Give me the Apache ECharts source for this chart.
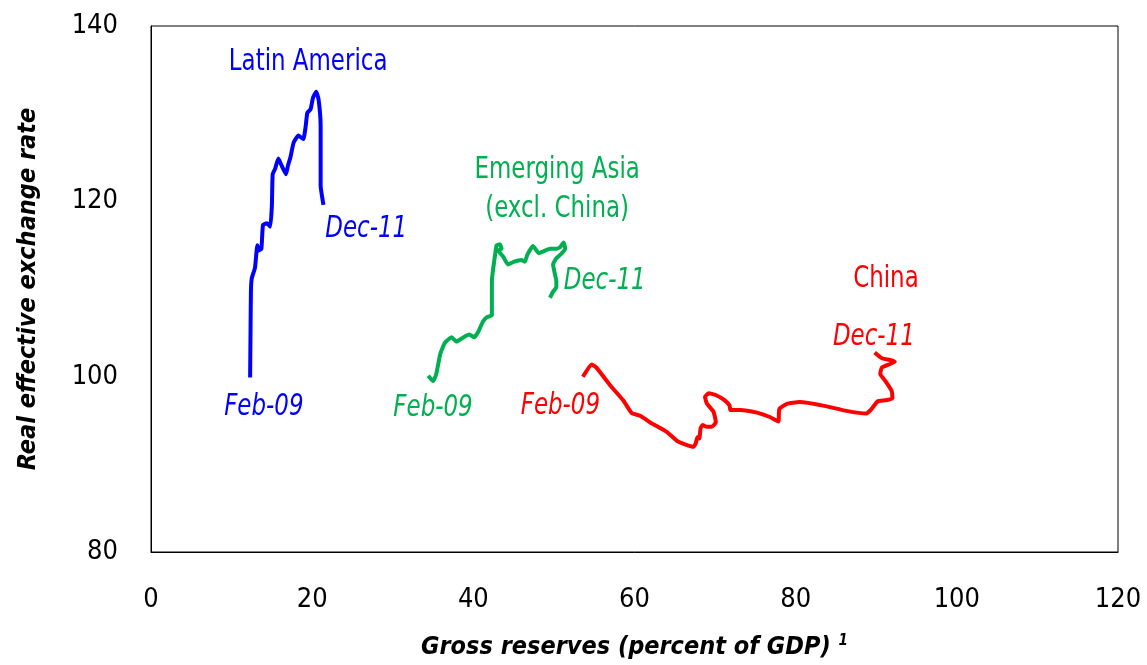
<!DOCTYPE html>
<html>
<head>
<meta charset="utf-8">
<script src="https://cdn.jsdelivr.net/npm/echarts@6/dist/echarts.min.js"></script>
<style>
    html, body { margin: 0; padding: 0; background: #fff; }
    #chart { width: 1147px; height: 665px; }
</style>
</head>
<body>
<div id="chart"></div>
<script>
// data: [gross reserves % of GDP, REER]
const latinAmerica = [
    [12.3, 99.9], [12.35, 105], [12.4, 109.7], [12.5, 111.2], [12.9, 112.4], [13.2, 115.0],
    [13.4, 114.4], [13.7, 114.6], [13.9, 117.3], [14.4, 117.5], [14.8, 117.1], [15.0, 119.5],
    [15.1, 123.1], [15.4, 123.7], [15.8, 124.9], [16.2, 124.1], [16.75, 123.1], [17.0, 124.1],
    [17.3, 125.0], [17.7, 126.7], [18.3, 127.5], [18.9, 127.1], [19.2, 128.6], [19.4, 130.1],
    [19.8, 130.5], [20.1, 131.8], [20.5, 132.5], [20.8, 131.6], [21.05, 128.6], [21.05, 124.8],
    [21.05, 121.8], [21.4, 119.6]
];
const emergingAsia = [
    [34.4, 100.1], [35.0, 99.5], [35.4, 100.3], [35.9, 102.6], [36.5, 103.9], [37.3, 104.5],
    [37.9, 104.0], [38.8, 104.5], [39.5, 104.8], [40.1, 104.5], [40.6, 105.1], [41.2, 106.3],
    [41.7, 106.8], [42.3, 107.0], [42.3, 110.9], [42.7, 113.9], [42.9, 115.0], [43.3, 115.1],
    [43.5, 114.6], [43.1, 114.4], [43.7, 113.7], [44.3, 112.8], [45.0, 113.1], [46.0, 113.3],
    [46.4, 113.1], [46.7, 113.9], [47.4, 114.9], [48.1, 114.1], [48.7, 114.3], [49.5, 114.6],
    [50.3, 114.6], [50.8, 114.8], [51.2, 115.3], [51.4, 114.6], [51.0, 114.1], [50.3, 113.5],
    [49.9, 112.8], [50.1, 111.8], [50.3, 110.9], [50.3, 110.2], [49.9, 109.7], [49.5, 109.0]
];
const china = [
    [53.6, 100.0], [54.7, 101.4], [55.3, 101.0], [57.0, 99.0], [58.6, 97.3], [59.65, 95.85],
    [60.7, 95.55], [61.9, 94.8], [64.0, 93.7], [65.4, 92.6], [67.3, 92.0], [67.6, 92.4],
    [67.8, 93.1], [68.04, 92.95], [68.2, 94.1], [68.45, 94.5], [68.95, 94.3], [69.6, 94.3],
    [70.1, 94.8], [69.8, 96.0], [69.0, 96.9], [68.75, 97.7], [69.2, 98.1], [70.2, 97.85],
    [71.2, 97.3], [71.8, 96.7], [71.9, 96.2], [73.1, 96.2], [75.2, 95.9], [76.8, 95.4],
    [77.85, 94.9], [77.97, 96.3], [78.9, 96.9], [80.5, 97.1], [83.4, 96.7], [86.3, 96.1],
    [88.8, 95.8], [89.4, 96.3], [90.2, 97.2], [91.1, 97.3], [92.0, 97.5], [91.9, 98.4],
    [91.1, 99.55], [90.5, 100.3], [90.7, 101.05], [92.3, 101.7], [91.7, 101.9], [90.7, 102.1],
    [89.8, 102.75]
];

// annotation text: [text, x, y, colour, italic]
const notes = [
    ["Latin America", 19.5, 135.9, "#0000ff", false],
    ["Dec-11", 26.7, 116.8, "#0000ff", true],
    ["Feb-09", 14.0, 96.5, "#0000ff", true],
    ["Emerging Asia", 50.4, 123.5, "#00b050", false],
    ["(excl. China)", 50.4, 119.1, "#00b050", false],
    ["Dec-11", 56.3, 110.9, "#00b050", true],
    ["Feb-09", 35.0, 96.4, "#00b050", true],
    ["Feb-09", 50.8, 96.6, "#ff0000", true],
    ["China", 91.2, 111.1, "#ff0000", false],
    ["Dec-11", 89.7, 104.5, "#ff0000", true]
];

const font = '"Liberation Sans Narrow", "DejaVu Sans Condensed", sans-serif';

let chart = echarts.init(document.querySelector("#chart"));

function line(data, color) {
    return {
        type: "line",
        data: data,
        showSymbol: false,
        smooth: 0.15,
        lineStyle: { color: color, width: 4 },
        animation: false
    };
}

chart.setOption({
    animation: false,
    grid: {
        left: 151, right: 29, top: 26, bottom: 109,
        show: true, borderColor: "#000", borderWidth: 1
    },
    xAxis: {
        type: "value", min: 0, max: 120, interval: 20,
        axisLine: { show: true, lineStyle: { color: "#000" } },
        axisTick: { show: false },
        splitLine: { show: false },
        axisLabel: { color: "#000", fontSize: 27, fontFamily: font, margin: 34 },
        name: "{a|Gross reserves (percent of GDP) }{s|1}",
        nameLocation: "middle",
        nameGap: 82,
        nameTextStyle: {
            rich: {
                a: { fontSize: 25, fontWeight: "bold", fontStyle: "italic", fontFamily: font, color: "#000" },
                s: { fontSize: 15, fontWeight: "bold", fontStyle: "italic", fontFamily: font, color: "#000", verticalAlign: "top", padding: [0, 0, 12, 0] }
            }
        }
    },
    yAxis: {
        type: "value", min: 80, max: 140, interval: 20,
        axisLine: { show: true, lineStyle: { color: "#000" } },
        axisTick: { show: false },
        splitLine: { show: false },
        axisLabel: { color: "#000", fontSize: 27, fontFamily: font, margin: 33 },
        name: "Real effective exchange rate",
        nameLocation: "middle",
        nameGap: 110,
        nameTextStyle: { fontSize: 25, fontWeight: "bold", fontStyle: "italic", fontFamily: font, color: "#000" }
    },
    series: [
        line(latinAmerica, "#0000ff"),
        line(emergingAsia, "#00b050"),
        line(china, "#ff0000")
    ]
});

// place the annotations at data positions, squeezed to look condensed
chart.setOption({
    graphic: notes.map(n => {
        let p = chart.convertToPixel({ gridIndex: 0 }, [n[1], n[2]]);
        return {
            type: "text",
            x: p[0], y: p[1],
            scaleX: 0.85,
            style: {
                text: n[0],
                fill: n[3],
                font: (n[4] ? "italic " : "") + "30px " + font,
                align: "center",
                verticalAlign: "middle"
            }
        };
    })
});
</script>
</body>
</html>
